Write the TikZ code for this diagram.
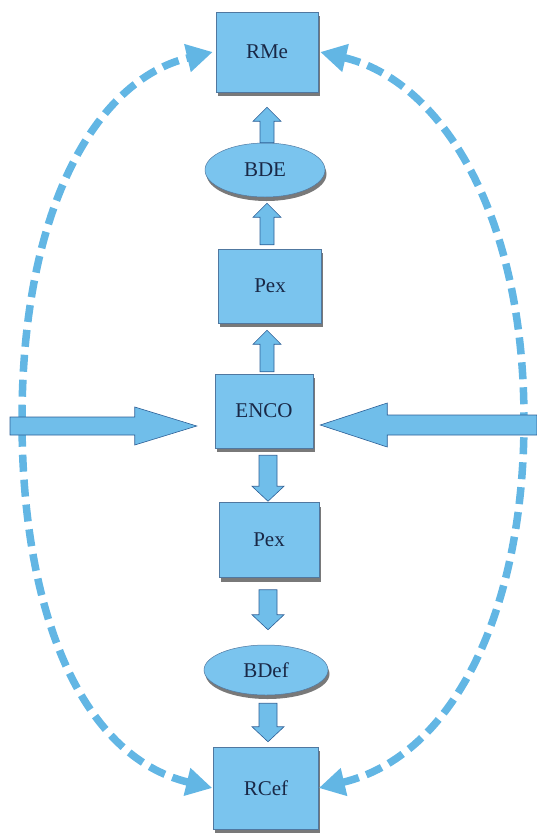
\documentclass[tikz,border=0pt]{standalone}
\usepackage{fontspec}
\setmainfont{Liberation Serif}
\usetikzlibrary{calc,shapes.geometric,shadows,arrows.meta}
\definecolor{boxfill}{RGB}{122,196,238}
\definecolor{boxedge}{RGB}{80,120,160}
\definecolor{dashblue}{RGB}{98,182,228}
\definecolor{arrfill}{RGB}{112,190,234}
\definecolor{arredge}{RGB}{45,95,150}
\definecolor{txtcol}{RGB}{25,40,70}
\newcommand\blockarrow[5]{%
  \coordinate (ba-h) at ($(#2)!#5!(#1)$);
  \filldraw[blkarrow] ($(#1)!#3!90:(#2)$) -- ($(ba-h)!#3!-90:(#1)$) -- ($(ba-h)!#4!-90:(#1)$) -- (#2) -- ($(ba-h)!#4!90:(#1)$) -- ($(ba-h)!#3!90:(#1)$) -- ($(#1)!#3!-90:(#2)$) -- cycle;}
\tikzset{
  shade/.style={drop shadow={shadow xshift=1.5pt, shadow yshift=-4pt, fill=black!75, opacity=0.7}},
  boxnode/.style={rectangle, draw=boxedge, line width=0.5pt, fill=boxfill, shade, text=txtcol, font=\fontsize{21}{25}\selectfont, inner sep=0pt},
  ellnode/.style={ellipse, draw=boxedge, line width=0.5pt, fill=boxfill, shade, text=txtcol, font=\fontsize{21}{25}\selectfont, inner sep=0pt},
  blkarrow/.style={fill=arrfill, draw=arredge, line width=0.6pt, line join=miter},
  dashcurve/.style={draw=dashblue, line width=7.5pt, dash pattern=on 17pt off 8pt, {Triangle[length=26pt,width=27pt]}-{Triangle[length=26pt,width=27pt]}}
}
\begin{document}
\begin{tikzpicture}[x=1pt,y=-1pt]
\useasboundingbox (0,0) rectangle (537,836);
\node[boxnode, minimum width=102pt, minimum height=80pt] (rme) at (267,52) {RMe};
\node[ellnode, minimum width=120pt, minimum height=54pt] (bde) at (265,170) {BDE};
\node[boxnode, minimum width=103pt, minimum height=74pt] (pex1) at (270,286) {Pex};
\node[boxnode, minimum width=98pt, minimum height=74pt] (enco) at (264,411) {ENCO};
\node[boxnode, minimum width=100pt, minimum height=75pt] (pex2) at (269,540) {Pex};
\node[ellnode, minimum width=124pt, minimum height=50pt] (bdef) at (266,670) {BDef};
\node[boxnode, minimum width=105pt, minimum height=82pt] (rcef) at (266,788) {RCef};
% dashed feedback curves
\coordinate (ltop) at ($(rme.west)+(-3,0)$);
\coordinate (lbot) at ($(rcef.west)+(-1,0)$);
\coordinate (rtop) at ($(rme.east)+(2,0)$);
\coordinate (rbot) at ($(rcef.east)+(0,0)$);
\coordinate (lmid) at (22,420);
\coordinate (rmid) at (524,420);
\draw[dashcurve] (lbot) .. controls (80,756) and (22,610) .. (lmid) .. controls (22,210) and (95,80) .. (ltop);
\draw[dashcurve] (rbot) .. controls (454,756) and (524,610) .. (rmid) .. controls (524,210) and (439,80) .. (rtop);
% vertical block arrows on a common axis
\coordinate (axu) at (267,0);
\coordinate (axd) at (268,0);
\coordinate (a1s) at (axu |- bde.north);
\coordinate (a1e) at ($(axu |- rme.south)+(0,15)$);
\coordinate (a2s) at ($(axu |- pex1.north)+(0,-4)$);
\coordinate (a2e) at ($(axu |- bde.south)+(0,6)$);
\coordinate (a3s) at ($(axu |- enco.north)+(0,-2)$);
\coordinate (a3e) at ($(axu |- pex1.south)+(0,7)$);
\coordinate (a4s) at ($(axd |- enco.south)+(0,7)$);
\coordinate (a4e) at ($(axd |- pex2.north)+(0,-1)$);
\coordinate (a5s) at ($(axd |- pex2.south)+(0,12)$);
\coordinate (a5e) at ($(axd |- bdef.north)+(0,-15)$);
\coordinate (a6s) at ($(axd |- bdef.south)+(0,8)$);
\coordinate (a6e) at ($(axd |- rcef.north)+(0,-5)$);
\blockarrow{a1s}{a1e}{7pt}{14pt}{14pt}
\blockarrow{a2s}{a2e}{7pt}{14pt}{14pt}
\blockarrow{a3s}{a3e}{7pt}{14pt}{14pt}
\blockarrow{a4s}{a4e}{9pt}{16pt}{15pt}
\blockarrow{a5s}{a5e}{9pt}{16pt}{15pt}
\blockarrow{a6s}{a6e}{9pt}{16pt}{15pt}
% horizontal big arrows
\coordinate (ls) at (10,426);
\coordinate (le) at ($(enco.west)+(-18,15)$);
\coordinate (rs) at (537,425);
\coordinate (re) at ($(enco.east)+(7,14)$);
\blockarrow{ls}{le}{9pt}{19pt}{62pt}
\blockarrow{rs}{re}{10pt}{22pt}{67pt}
\end{tikzpicture}
\end{document}
